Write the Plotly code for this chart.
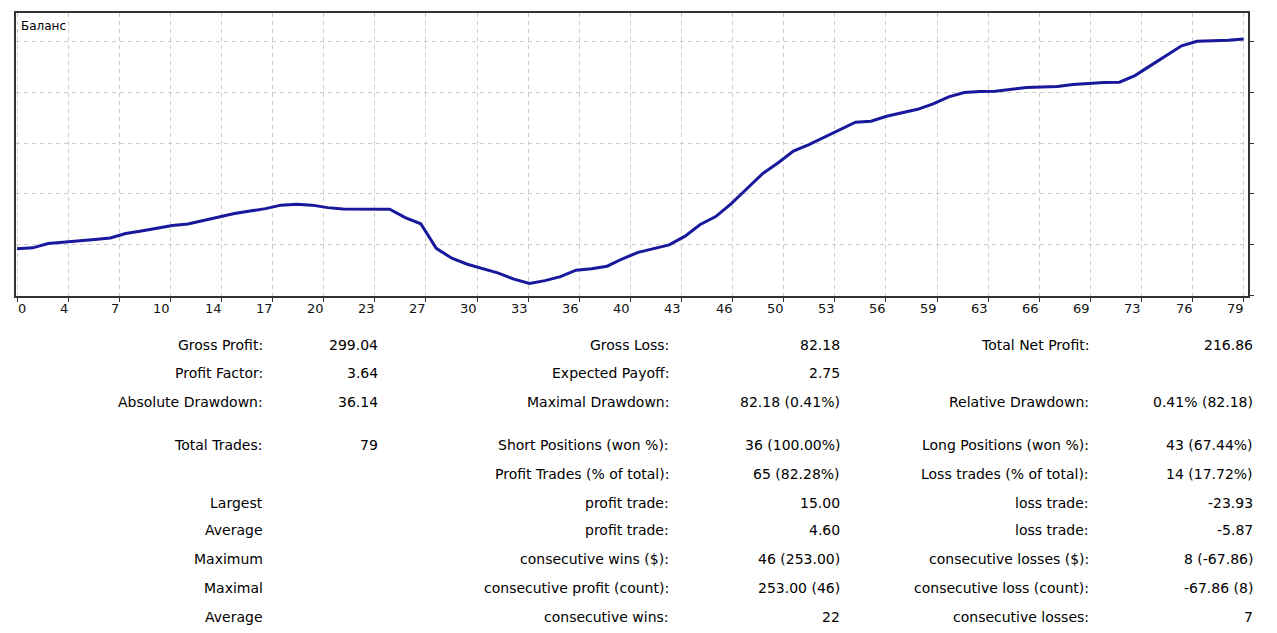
import plotly.graph_objects as go

# ---------------- data ----------------
trades = list(range(80))
balance = [
    20000.00, 20000.82, 20005.24, 20006.47, 20008.32, 20009.56, 20011.10, 20015.72,
    20018.29, 20021.07, 20023.95, 20025.49, 20029.09, 20033.20, 20036.28, 20038.85,
    20041.42, 20045.02, 20046.04, 20045.02, 20042.45, 20041.11, 20041.00, 20040.90,
    20040.80, 20032.17, 20025.69, 20000.31, 19990.03, 19983.86, 19979.24, 19974.61,
    19968.45, 19963.86, 19966.91, 19971.02, 19977.70, 19979.24, 19981.81, 19989.52,
    19996.20, 20000.31, 20003.91, 20012.64, 20024.97, 20033.20, 20046.56, 20061.97,
    20077.39, 20088.70, 20101.03, 20107.71, 20115.42, 20123.64, 20130.83, 20131.86,
    20137.00, 20140.60, 20144.19, 20149.85, 20157.04, 20161.66, 20162.69, 20162.90,
    20164.75, 20166.80, 20167.32, 20167.83, 20169.89, 20171.22, 20171.94, 20172.25,
    20179.14, 20189.41, 20199.69, 20209.97, 20214.59, 20214.80, 20215.62, 20216.86,
]
x_tick_labels = ["0", "4", "7", "10", "14", "17", "20", "23", "27", "30", "33", "36", "40",
                 "43", "46", "50", "53", "56", "59", "63", "66", "69", "73", "76", "79"]
chart_title = "Баланс"

col1_labels = ["Gross Profit:", "Profit Factor:", "Absolute Drawdown:", "Total Trades:", "",
               "Largest", "Average", "Maximum", "Maximal", "Average"]
col1_values = ["299.04", "3.64", "36.14", "79", "", "", "", "", "", ""]
col2_labels = ["Gross Loss:", "Expected Payoff:", "Maximal Drawdown:", "Short Positions (won %):",
               "Profit Trades (% of total):", "profit trade:", "profit trade:",
               "consecutive wins ($):", "consecutive profit (count):", "consecutive wins:"]
col2_values = ["82.18", "2.75", "82.18 (0.41%)", "36 (100.00%)", "65 (82.28%)", "15.00", "4.60",
               "46 (253.00)", "253.00 (46)", "22"]
col3_labels = ["Total Net Profit:", "", "Relative Drawdown:", "Long Positions (won %):",
               "Loss trades (% of total):", "loss trade:", "loss trade:",
               "consecutive losses ($):", "consecutive loss (count):", "consecutive losses:"]
col3_values = ["216.86", "", "0.41% (82.18)", "43 (67.44%)", "14 (17.72%)", "-23.93", "-5.87",
               "8 (-67.86)", "-67.86 (8)", "7"]

# ---------------- layout geometry (pixels) ----------------
W, H = 1277, 633
PL, PR, PT, PB = 16, 1248, 11, 296
n_int = len(x_tick_labels) - 1
tick_pos = [i * trades[-1] / n_int for i in range(len(x_tick_labels))]

def px_x(px):
    return (px - PL) / (PR - PL)

def px_y(py):
    return (PB - py) / (PB - PT)

fig = go.Figure()
fig.add_trace(go.Scatter(
    x=trades, y=balance, mode="lines",
    line=dict(color="#18189c", width=3),
    hoverinfo="skip", showlegend=False,
))

annotations = []
font_tick = dict(family="DejaVu Sans", size=13, color="#111111")
for i, (pos, lab) in enumerate(zip(tick_pos, x_tick_labels)):
    annotations.append(dict(
        x=pos, y=px_y(309), xref="x", yref="paper", text=lab, showarrow=False,
        xanchor="left" if i == 0 else "right", yanchor="middle",
        xshift=-1 if i == 0 else 2, font=font_tick,
    ))

annotations.append(dict(
    x=px_x(19), y=px_y(24), xref="paper", yref="paper", text=chart_title,
    showarrow=False, xanchor="left", yanchor="middle",
    font=dict(family="DejaVu Sans", size=12, color="#000000"),
))

row_y = [345, 374, 403, 446, 475, 504, 532, 561, 590, 619]
font_tab = dict(family="DejaVu Sans", size=14, color="#000000")
cols = [(col1_labels, 265), (col1_values, 380), (col2_labels, 671), (col2_values, 842),
        (col3_labels, 1091), (col3_values, 1255)]
for texts, right_px in cols:
    for t, ry in zip(texts, row_y):
        if not t:
            continue
        annotations.append(dict(
            x=px_x(right_px), y=px_y(ry), xref="paper", yref="paper", text=t,
            showarrow=False, xanchor="right", yanchor="middle", font=font_tab,
        ))

# y range from pixel geometry: start balance at pixel 248.3, 0.973 px per $
scale = 0.973
y_at = lambda py: balance[0] + (248.3 - py) / scale
grid_dash = "4px,4px"

fig.update_layout(
    width=W, height=H,
    margin=dict(l=PL, r=W - PR, t=PT, b=H - PB, pad=0),
    paper_bgcolor="white", plot_bgcolor="white",
    annotations=annotations,
    xaxis=dict(
        range=[-0.07, 79.28], tickmode="array", tickvals=tick_pos, showticklabels=False,
        ticks="outside", ticklen=4, tickcolor="#333333", tickwidth=1,
        showgrid=True, gridcolor="#cccccc", griddash=grid_dash, gridwidth=1,
        showline=True, linecolor="#333333", linewidth=2, mirror=True, zeroline=False,
    ),
    yaxis=dict(
        range=[y_at(PB), y_at(PT)], side="right", tick0=y_at(244), dtick=51 / scale,
        showticklabels=False, ticks="outside", ticklen=4, tickcolor="#333333",
        showgrid=True, gridcolor="#cccccc", griddash=grid_dash, gridwidth=1,
        showline=True, linecolor="#333333", linewidth=2, mirror=True, zeroline=False,
    ),
)

fig.write_html("out.html")
